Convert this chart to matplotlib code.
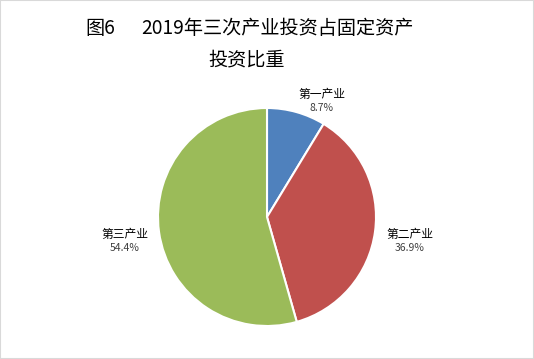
import matplotlib
matplotlib.use("Agg")
import matplotlib.pyplot as plt

plt.rcParams['font.family'] = ['Noto Sans CJK SC', 'DejaVu Sans']

# data
sectors = ['第一产业', '第二产业', '第三产业']
shares = [8.7, 36.9, 54.4]
colors = ['#4F81BD', '#C0504D', '#9BBB59']
# label positions (pixels, from top-left)
label_pos = [(322, 101), (410, 241), (125, 241)]

W, H = 534, 359
fig = plt.figure(figsize=(W / 100, H / 100), dpi=100)
ax = fig.add_axes([0, 0, 1, 1])

wedges, _ = ax.pie(shares, colors=colors, startangle=90, counterclock=False,
                   center=(267, 217), radius=109, frame=True,
                   wedgeprops=dict(edgecolor='white', linewidth=1.5))
ax.set_xlim(0, W)
ax.set_ylim(H, 0)
ax.set_aspect('equal')
ax.axis('off')
# y axis is flipped: mirror the wedges so the order stays clockwise from top
for w in wedges:
    t1, t2 = w.theta1, w.theta2
    w.set_theta1(-t2)
    w.set_theta2(-t1)

for name, val, (x, y) in zip(sectors, shares, label_pos):
    ax.text(x, y - 7, name, ha='center', va='center', fontsize=8.5, color='black')
    ax.text(x, y + 7, f'{val}%', ha='center', va='center', fontsize=7.5, color='#404040')

ax.text(85, 28, '图6', ha='left', va='center', fontsize=13.8, color='black')
ax.text(141, 28, '2019年三次产业投资占固定资产', ha='left', va='center', fontsize=13.8, color='black')
ax.text(247, 60, '投资比重', ha='center', va='center', fontsize=13.8, color='black')

# outer border
fig.patches.append(plt.Rectangle((0, 0), 1, 1, transform=fig.transFigure,
                                 fill=False, edgecolor='#D9D9D9', linewidth=1.5))

fig.savefig('out.png', dpi=100)
